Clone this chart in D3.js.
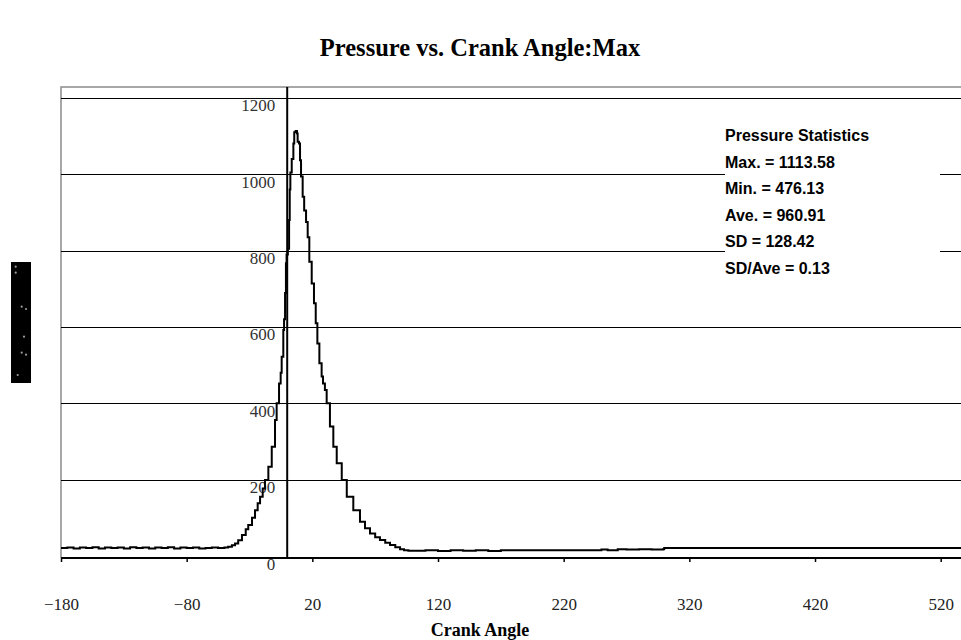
<!DOCTYPE html>
<html>
<head>
<meta charset="utf-8">
<script src="https://cdn.jsdelivr.net/npm/d3@7/dist/d3.min.js"></script>
<style>
  html, body { margin: 0; padding: 0; background: #fff; }
  svg { display: block; }
</style>
</head>
<body>
<svg id="chart" width="961" height="640"></svg>
<script>
// ---- Data ----
const crankAngle = [
  -180,-175,-170,-165,-160,-155,-150,-145,-140,-135,-130,-125,-120,-115,-110,-105,-100,-95,-90,-85,-80,-75,-70,-65,-60,-55,-50,
  -47,-44,-41.5,-39,-36,-33,-31,-28,-25.6,-23.5,-21.6,-19.5,-17.7,-15,-12.3,-9.7,-8.4,-6.5,-5.2,-4.4,-3.1,-2.5,-1.7,-1,-0.5,
  0.5,1.5,2,2.5,3.6,4.9,5.6,6.7,7.8,8.3,9.4,10.2,11,12.3,13.5,15,16.3,17.6,19.5,21.3,22.7,24,25.6,27.4,28.5,30,31.4,34,36.7,
  39.4,43.4,47.4,52.6,57.9,61.9,65.9,70,73.8,78,81.8,86,89.8,93,96.4,
  100,110,120,130,140,150,160,170,180,200,220,240,250,255,263,270,280,290,299,300,350,400,450,500,540
];
const pressure = [
  21,22,20,22,21,23,20,22,21,22,20,23,21,22,20,22,21,23,20,22,21,22,20,21,22,21,22,
  24,28,33,41,55,70,81,100,120,138,155,177,199,234,286,356,400,452,480,522,592,620,689,767,790,
  805,880,960,1005,1040,1081,1110,1113.58,1107,1085,1081,1037,994,941,905,875,835,771,714,662,610,557,505,470,452,435,400,339,286,
  243,199,155,120,90,73,59,49,42,35,29,23,18,15,14,
  14,15,13,15,14,15,13,15,15,15,15,15,17,15,18,17,18,17,18,21,21,21,21,21,21
];
const xTicks = [-180, -80, 20, 120, 220, 320, 420, 520];
const yTicks = [0, 200, 400, 600, 800, 1000, 1200];
const statsLines = ["Pressure Statistics", "Max. = 1113.58", "Min. = 476.13", "Ave. = 960.91", "SD = 128.42", "SD/Ave = 0.13"];
const titleText = "Pressure vs. Crank Angle:Max";
const xTitle = "Crank Angle";

// ---- Layout ----
const W = 961, H = 640;
const mLeft = 61, mTop = 87, mBottom = 558;
const svg = d3.select("#chart");

const x = d3.scaleLinear().domain([-180, 540]).range([mLeft, mLeft + 720 * 1.2567]);
const y = d3.scaleLinear().domain([-5.2, 1228.7]).range([mBottom, mTop]);
const plotRight = W;

svg.append("defs").append("clipPath").attr("id", "plotclip")
  .append("rect").attr("x", mLeft).attr("y", mTop).attr("width", plotRight - mLeft).attr("height", mBottom - mTop);

// Title
svg.append("text")
  .attr("x", 480).attr("y", 56)
  .attr("text-anchor", "middle")
  .style("font-family", "'Liberation Serif', 'Times New Roman', serif")
  .style("font-weight", "bold").style("font-size", "24.5px")
  .text(titleText);

// Plot border (gray, left and top)
svg.append("path")
  .attr("d", `M${mLeft},${mBottom} L${mLeft},${mTop} L${plotRight},${mTop}`)
  .attr("fill", "none").attr("stroke", "#8a8a8a").attr("stroke-width", 1.5);

// Horizontal gridlines
svg.append("g").selectAll("line").data(yTicks.filter(d => d > 0)).join("line")
  .attr("x1", mLeft).attr("x2", plotRight)
  .attr("y1", d => Math.round(y(d)) + 0.5).attr("y2", d => Math.round(y(d)) + 0.5)
  .attr("stroke", "#000").attr("stroke-width", 1);

// Y tick labels (to the left of the y axis at crank angle 0)
svg.append("g").selectAll("text").data(yTicks).join("text")
  .attr("x", x(0) - 12).attr("y", d => y(d) + 13.5)
  .attr("text-anchor", "end")
  .style("font-family", "'Liberation Serif', 'Times New Roman', serif")
  .style("font-size", "17px").attr("fill", "#333")
  .text(d => d);

// Stats box (white background)
svg.append("rect").attr("x", 725).attr("y", 108).attr("width", 215).attr("height", 180).attr("fill", "#fff");
svg.append("g").selectAll("text").data(statsLines).join("text")
  .attr("x", 725).attr("y", (d, i) => 141 + i * 26.6)
  .style("font-family", "'Liberation Sans', Arial, sans-serif")
  .style("font-weight", "bold").style("font-size", "16px")
  .text(d => d);

// Pressure curve (stair-stepped like the recorded trace)
const line = d3.line().x(d => x(d[0])).y(d => y(d[1])).curve(d3.curveStepAfter);
const pts = crankAngle.map((a, i) => [a, pressure[i]]);
svg.append("path").datum(pts)
  .attr("clip-path", "url(#plotclip)")
  .attr("d", line)
  .attr("fill", "none").attr("stroke", "#000").attr("stroke-width", 2).attr("stroke-linejoin", "miter");

// Y axis at crank angle 0
svg.append("line")
  .attr("x1", x(0)).attr("x2", x(0)).attr("y1", mTop).attr("y2", mBottom)
  .attr("stroke", "#000").attr("stroke-width", 2);

// X axis
const xAxis = d3.axisBottom(x).tickValues(xTicks).tickSize(4).tickPadding(36).tickFormat(d3.format("d"));
const gx = svg.append("g").attr("transform", `translate(0,${mBottom})`).call(xAxis);
gx.select(".domain").remove();
gx.selectAll(".tick line").attr("stroke", "#000").attr("stroke-width", 1.5);
gx.selectAll(".tick text")
  .style("font-family", "'Liberation Serif', 'Times New Roman', serif")
  .style("font-size", "17px").attr("fill", "#222");
svg.append("line").attr("x1", mLeft).attr("x2", plotRight).attr("y1", mBottom).attr("y2", mBottom)
  .attr("stroke", "#000").attr("stroke-width", 2);

// X axis title
svg.append("text")
  .attr("x", 480).attr("y", 636)
  .attr("text-anchor", "middle")
  .style("font-family", "'Liberation Serif', 'Times New Roman', serif")
  .style("font-weight", "bold").style("font-size", "18px")
  .text(xTitle);

// Legend remnant on the left (black strip with faint markers)
const leg = svg.append("g").attr("transform", "translate(11,262)");
leg.append("rect").attr("width", 20).attr("height", 121).attr("fill", "#000");
const legendMarks = [[4.7,4.7],[4.7,10.7],[10.7,44.7],[15,47],[13,74.7],[10.7,90.7],[15,92.7],[6.7,113]];
leg.selectAll("circle").data(legendMarks).join("circle")
  .attr("cx", d => d[0]).attr("cy", d => d[1]).attr("r", 1.1).attr("fill", "#9a9a9a");
</script>
</body>
</html>
